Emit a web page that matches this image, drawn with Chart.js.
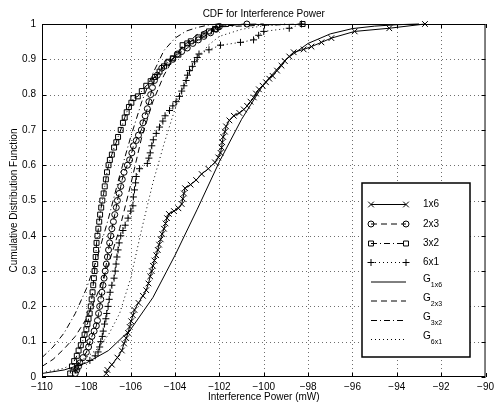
<!DOCTYPE html>
<html>
<head>
<meta charset="utf-8">
<script src="https://cdn.jsdelivr.net/npm/chart.js@4/dist/chart.umd.min.js"></script>
<style>
  html, body { margin: 0; padding: 0; background: #fff; }
  canvas { display: block; }
</style>
</head>
<body>
<canvas id="cdfChart" width="498" height="403"></canvas>
<script>
// tick labels
const xTicks = [-110, -108, -106, -104, -102, -100, -98, -96, -94, -92, -90];
const yTicks = [0, 0.1, 0.2, 0.3, 0.4, 0.5, 0.6, 0.7, 0.8, 0.9, 1];

const emp1x6 = [
  [-107.1,0.01],[-107.05,0.02],[-106.85,0.035],[-106.6,0.055],[-106.4,0.075],[-106.3,0.095],[-106.2,0.11],
  [-106.12,0.125],[-106.05,0.142],[-105.98,0.158],[-105.9,0.175],[-105.83,0.19],[-105.65,0.21],[-105.45,0.23],
  [-105.3,0.246],[-105.2,0.265],[-105.12,0.285],[-105.05,0.3],[-105.0,0.315],[-104.93,0.33],[-104.85,0.345],
  [-104.78,0.36],[-104.72,0.375],[-104.65,0.39],[-104.58,0.405],[-104.5,0.42],[-104.43,0.435],[-104.36,0.45],
  [-104.28,0.462],[-104.05,0.47],[-103.85,0.478],[-103.7,0.49],[-103.65,0.505],[-103.6,0.52],[-103.55,0.535],
  [-103.3,0.545],[-103.05,0.558],[-102.8,0.575],[-102.5,0.59],[-102.2,0.608],[-102.05,0.622],[-101.95,0.635],
  [-101.9,0.65],[-101.87,0.665],[-101.83,0.68],[-101.75,0.695],[-101.7,0.71],[-101.55,0.727],[-101.35,0.74],
  [-101.1,0.748],[-100.9,0.758],[-100.75,0.768],[-100.6,0.78],[-100.45,0.792],[-100.35,0.803],[-100.22,0.815],
  [-100.05,0.825],[-99.9,0.835],[-99.75,0.845],[-99.6,0.853],[-99.4,0.868],[-99.2,0.882],[-99.05,0.895],
  [-98.85,0.908],[-98.65,0.92],[-98.2,0.928],[-97.85,0.936],[-97.4,0.948],[-96.95,0.96],[-95.9,0.979],
  [-94.34,0.988],[-92.73,1.0]
];
const emp2x3 = [
  [-108.5,0.01],[-108.43,0.02],[-108.35,0.03],[-108.29,0.04],[-108.15,0.055],[-108.0,0.07],[-107.9,0.085],
  [-107.84,0.1],[-107.75,0.115],[-107.65,0.13],[-107.55,0.145],[-107.5,0.16],[-107.45,0.18],[-107.4,0.2],
  [-107.35,0.22],[-107.3,0.24],[-107.25,0.26],[-107.2,0.28],[-107.15,0.3],[-107.1,0.32],[-107.05,0.34],
  [-107.0,0.36],[-106.95,0.38],[-106.9,0.4],[-106.85,0.42],[-106.78,0.44],[-106.72,0.46],[-106.65,0.48],
  [-106.6,0.5],[-106.52,0.52],[-106.45,0.54],[-106.38,0.56],[-106.3,0.58],[-106.15,0.6],[-106.05,0.615],
  [-105.95,0.635],[-105.88,0.655],[-105.75,0.67],[-105.65,0.685],[-105.52,0.7],[-105.45,0.72],[-105.35,0.74],
  [-105.25,0.76],[-105.18,0.78],[-105.1,0.8],[-105.02,0.82],[-104.93,0.84],[-104.8,0.855],[-104.6,0.875],
  [-104.35,0.89],[-104.1,0.9],[-103.9,0.915],[-103.7,0.922],[-103.45,0.932],[-103.2,0.945],[-102.95,0.955],
  [-102.7,0.965],[-102.4,0.975],[-102.15,0.985],[-102.0,0.993],[-100.76,1.0]
];
const emp3x2 = [
  [-108.73,0.01],[-108.65,0.03],[-108.55,0.045],[-108.43,0.06],[-108.35,0.075],[-108.25,0.09],[-108.15,0.105],
  [-108.08,0.12],[-108.0,0.135],[-107.95,0.15],[-107.9,0.165],[-107.85,0.18],[-107.8,0.2],[-107.76,0.22],
  [-107.72,0.24],[-107.69,0.26],[-107.66,0.28],[-107.63,0.3],[-107.6,0.32],[-107.58,0.34],[-107.56,0.36],
  [-107.54,0.38],[-107.5,0.4],[-107.46,0.42],[-107.42,0.44],[-107.38,0.46],[-107.33,0.48],[-107.28,0.5],
  [-107.22,0.52],[-107.17,0.54],[-107.12,0.56],[-107.07,0.58],[-107.0,0.6],[-106.94,0.615],[-106.85,0.63],
  [-106.75,0.65],[-106.65,0.665],[-106.57,0.68],[-106.45,0.7],[-106.35,0.72],[-106.27,0.735],[-106.18,0.75],
  [-106.08,0.765],[-105.97,0.777],[-105.88,0.79],[-105.68,0.795],[-105.5,0.81],[-105.3,0.825],[-105.1,0.838],
  [-104.9,0.85],[-104.7,0.865],[-104.5,0.88],[-104.3,0.893],[-104.1,0.903],[-103.85,0.913],[-103.66,0.94],
  [-103.45,0.945],[-103.29,0.951],[-102.95,0.962],[-102.7,0.97],[-102.47,0.979],[-102.2,0.986],[-102.05,0.992],
  [-98.25,1.0]
];
const emp6x1 = [
  [-108.5,0.02],[-108.36,0.033],[-107.84,0.047],[-107.6,0.06],[-107.47,0.071],[-107.4,0.085],[-107.35,0.1],
  [-107.28,0.115],[-107.24,0.13],[-107.18,0.15],[-107.12,0.165],[-107.08,0.18],[-107.02,0.2],[-106.97,0.22],
  [-106.93,0.24],[-106.85,0.26],[-106.75,0.28],[-106.7,0.3],[-106.66,0.32],[-106.62,0.34],[-106.57,0.36],
  [-106.52,0.38],[-106.45,0.4],[-106.35,0.415],[-106.25,0.43],[-106.12,0.45],[-106.0,0.47],[-105.9,0.485],
  [-105.88,0.51],[-105.83,0.53],[-105.78,0.55],[-105.75,0.568],[-105.6,0.59],[-105.25,0.605],[-105.18,0.62],
  [-105.12,0.635],[-105.05,0.655],[-104.98,0.672],[-104.85,0.69],[-104.7,0.708],[-104.55,0.725],[-104.45,0.74],
  [-104.25,0.755],[-104.1,0.768],[-103.95,0.78],[-103.8,0.795],[-103.7,0.81],[-103.6,0.825],[-103.5,0.84],
  [-103.44,0.855],[-103.35,0.868],[-103.22,0.88],[-103.12,0.893],[-103.0,0.905],[-102.92,0.915],[-102.47,0.927],
  [-101.95,0.94],[-101.05,0.948],[-100.46,0.955],[-100.23,0.968],[-100.0,0.979],[-98.85,0.988],[-98.3,1.0]
];

// fitted (analytic) CDFs
const fit1x6 = [
  [-110,0.01],[-109,0.02],[-108,0.04],[-107,0.075],[-106,0.135],[-105,0.225],[-104,0.345],[-103,0.475],
  [-102,0.61],[-101,0.73],[-100,0.83],[-99,0.9],[-98,0.945],[-97,0.972],[-96,0.987],[-95,0.994],[-94,0.998],[-93,1.0]
];
const fit2x3 = [
  [-110,0.03],[-109.5,0.05],[-109,0.08],[-108.5,0.115],[-108,0.165],[-107.5,0.235],[-107,0.32],[-106.5,0.42],
  [-106,0.545],[-105.5,0.68],[-105,0.78],[-104.5,0.855],[-104,0.91],[-103.5,0.945],[-103,0.97],[-102.5,0.985],
  [-102,0.993],[-101,0.999],[-100,1.0]
];
const fit3x2 = [
  [-110,0.055],[-109.5,0.085],[-109,0.125],[-108.5,0.18],[-108,0.25],[-107.5,0.34],[-107,0.45],[-106.5,0.57],
  [-106,0.68],[-105.5,0.78],[-105,0.86],[-104.5,0.925],[-104,0.96],[-103.5,0.98],[-103,0.99],[-102.5,0.997],[-102,1.0]
];
const fit6x1 = [
  [-110,0.012],[-109,0.025],[-108,0.055],[-107.5,0.08],[-107,0.12],[-106.5,0.18],[-106,0.28],[-105.5,0.42],
  [-105,0.55],[-104.5,0.66],[-104,0.76],[-103.5,0.84],[-103,0.9],[-102.5,0.94],[-102,0.965],[-101,0.985],
  [-100,0.995],[-99,1.0]
];

const FONT = '"Liberation Sans", Arial, Helvetica, sans-serif';
const toPts = arr => arr.map(p => ({ x: p[0], y: p[1] }));

function series(label, pts, dash, marker, r) {
  return {
    label: label,
    data: toPts(pts),
    showLine: true,
    borderColor: '#000',
    borderWidth: 1,
    borderDash: dash,
    pointStyle: marker || false,
    pointRadius: marker ? r : 0,
    pointBorderColor: '#000',
    pointBorderWidth: 1,
    pointBackgroundColor: 'rgba(0,0,0,0)',
    tension: 0,
    clip: false
  };
}

const legendItems = [
  { text: '1x6', dash: [], marker: 'crossRot', r: 4 },
  { text: '2x3', dash: [6, 4], marker: 'circle', r: 3 },
  { text: '3x2', dash: [6, 3, 1, 3], marker: 'rect', r: 3.5 },
  { text: '6x1', dash: [1, 3], marker: 'cross', r: 3.5 },
  { text: 'G', sub: '1x6', dash: [] },
  { text: 'G', sub: '2x3', dash: [6, 4] },
  { text: 'G', sub: '3x2', dash: [6, 3, 1, 3] },
  { text: 'G', sub: '6x1', dash: [1, 3] }
];

const framePlugin = {
  id: 'frame',
  beforeDraw(chart) {
    const c = chart.ctx;
    c.save();
    c.fillStyle = '#fff';
    c.fillRect(0, 0, chart.width, chart.height);
    c.restore();
  },
  beforeDatasetsDraw(chart) {
    // dotted grid
    const c = chart.ctx;
    const a = chart.chartArea;
    const xs = chart.scales.x, ys = chart.scales.y;
    c.save();
    c.strokeStyle = '#6e6e6e';
    c.lineWidth = 1;
    c.setLineDash([1, 3]);
    c.beginPath();
    xTicks.slice(1, -1).forEach(v => {
      const px = Math.round(xs.getPixelForValue(v)) + 0.5;
      c.moveTo(px, a.bottom); c.lineTo(px, a.top);
    });
    yTicks.slice(1, -1).forEach(v => {
      const py = Math.round(ys.getPixelForValue(v)) + 0.5;
      c.moveTo(a.left, py); c.lineTo(a.right, py);
    });
    c.stroke();
    c.restore();
  },
  afterDraw(chart) {
    const c = chart.ctx;
    const a = chart.chartArea;
    const xs = chart.scales.x, ys = chart.scales.y;
    c.save();
    // axes box
    c.strokeStyle = '#000';
    c.lineWidth = 1;
    c.setLineDash([]);
    c.strokeRect(a.left + 0.5, a.top + 0.5, a.right - a.left - 1, a.bottom - a.top - 1);
    // inward tick marks on all four sides
    c.beginPath();
    xTicks.forEach(v => {
      const px = Math.round(xs.getPixelForValue(v)) + 0.5;
      c.moveTo(px, a.bottom); c.lineTo(px, a.bottom - 4);
      c.moveTo(px, a.top); c.lineTo(px, a.top + 4);
    });
    yTicks.forEach(v => {
      const py = Math.round(ys.getPixelForValue(v)) + 0.5;
      c.moveTo(a.left, py); c.lineTo(a.left + 4, py);
      c.moveTo(a.right, py); c.lineTo(a.right - 4, py);
    });
    c.stroke();

    // titles
    c.fillStyle = '#000';
    c.font = '10px ' + FONT;
    c.textAlign = 'center';
    c.textBaseline = 'middle';
    c.fillText('CDF for Interference Power', (a.left + a.right) / 2, 14);
    c.fillText('Interference Power (mW)', (a.left + a.right) / 2, 397);
    c.save();
    c.translate(14, (a.top + a.bottom) / 2);
    c.rotate(-Math.PI / 2);
    c.fillText('Cumulative Distribution Function', 0, 0);
    c.restore();

    // legend box
    const bx = 362, by = 183, bw = 108, bh = 174;
    c.fillStyle = '#fff';
    c.fillRect(bx, by, bw, bh);
    c.lineWidth = 1.5;
    c.strokeStyle = '#000';
    c.strokeRect(bx, by, bw, bh);
    const rowY = [204.5, 224, 243.5, 262.5, 282, 301, 320.5, 339.5];
    const x0 = 371, x1 = 406, tx = 423;
    legendItems.forEach((it, i) => {
      const y = rowY[i];
      c.lineWidth = 1;
      c.strokeStyle = '#000';
      c.setLineDash(it.dash);
      c.beginPath();
      c.moveTo(x0, y); c.lineTo(x1, y);
      c.stroke();
      c.setLineDash([]);
      if (it.marker) {
        c.fillStyle = 'rgba(0,0,0,0)';
        Chart.helpers.drawPoint(c, { pointStyle: it.marker, radius: it.r, borderWidth: 1 }, x0, y);
        Chart.helpers.drawPoint(c, { pointStyle: it.marker, radius: it.r, borderWidth: 1 }, x1, y);
      }
      c.fillStyle = '#000';
      c.textAlign = 'left';
      c.textBaseline = 'middle';
      c.font = '10px ' + FONT;
      c.fillText(it.text, tx, it.sub ? y - 3 : y);
      if (it.sub) {
        const w = c.measureText(it.text).width;
        c.font = '7px ' + FONT;
        c.fillText(it.sub, tx + w, y + 3);
      }
    });
    c.restore();
  }
};

const ctx = document.getElementById('cdfChart').getContext('2d');
const chart = new Chart(ctx, {
  type: 'scatter',
  data: {
    datasets: [
      series('G1x6', fit1x6, [], null, 0),
      series('G2x3', fit2x3, [6, 4], null, 0),
      series('G3x2', fit3x2, [6, 3, 1, 3], null, 0),
      series('G6x1', fit6x1, [1, 3], null, 0),
      series('1x6', emp1x6, [], 'crossRot', 4),
      series('2x3', emp2x3, [6, 4], 'circle', 3),
      series('3x2', emp3x2, [6, 3, 1, 3], 'rect', 3.5),
      series('6x1', emp6x1, [1, 3], 'cross', 3.5)
    ]
  },
  options: {
    responsive: false,
    animation: false,
    layout: { padding: { top: 24, right: 9, left: 0, bottom: 0 } },
    plugins: {
      legend: { display: false },
      title: { display: false },
      tooltip: { enabled: false }
    },
    scales: {
      x: {
        type: 'linear',
        min: -110,
        max: -90,
        afterFit: s => { s.height = 26; },
        afterBuildTicks: s => { s.ticks = xTicks.map(v => ({ value: v })); },
        ticks: {
          padding: 4,
          color: '#000',
          font: { family: FONT, size: 10 },
          maxRotation: 0,
          callback: v => String(v).replace('-', '\u2212')
        },
        grid: { display: false, drawTicks: false },
        border: { display: false }
      },
      y: {
        type: 'linear',
        min: 0,
        max: 1,
        afterFit: s => { s.width = 42; },
        afterBuildTicks: s => { s.ticks = yTicks.map(v => ({ value: v })); },
        ticks: {
          padding: 6,
          color: '#000',
          font: { family: FONT, size: 10 },
          callback: v => String(Math.round(v * 10) / 10)
        },
        grid: { display: false, drawTicks: false },
        border: { display: false }
      }
    }
  },
  plugins: [framePlugin]
});
</script>
</body>
</html>
